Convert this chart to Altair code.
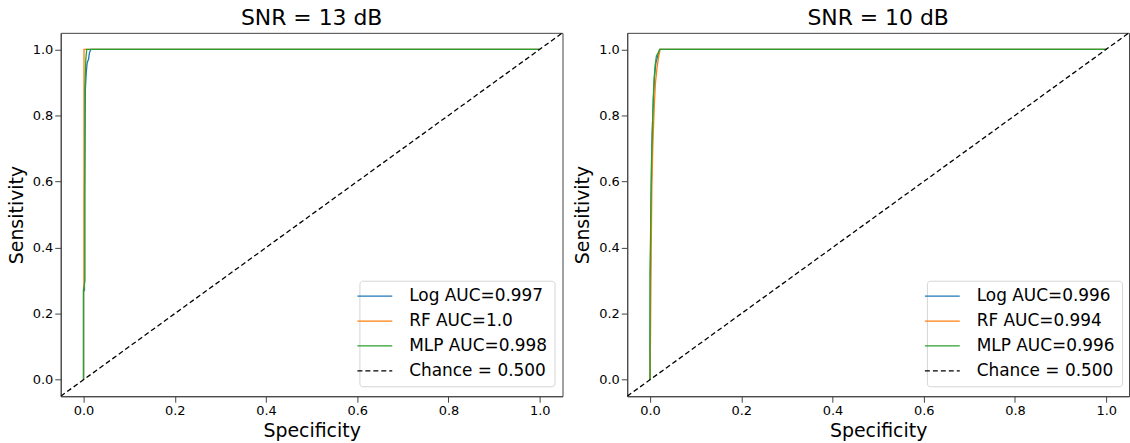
import altair as alt
import pandas as pd

FONT = "DejaVu Sans"

# ---- SNR = 13 dB ----
P1_TITLE = "SNR = 13 dB"
P1_LABELS = ["Log AUC=0.997", "RF AUC=1.0", "MLP AUC=0.998", "Chance = 0.500"]
P1_LOG_X = [0, 0, 0.002, 0.002, 0.003, 0.004, 0.006, 0.008, 0.011, 0.013, 0.016, 1.0]
P1_LOG_Y = [0, 0.27, 0.27, 0.55, 0.70, 0.88, 0.93, 0.96, 0.97, 0.99, 1.0, 1.0]
P1_RF_X = [0, 0, 0.001, 0.001, 1.0]
P1_RF_Y = [0, 0.28, 0.28, 1.0, 1.0]
P1_MLP_X = [0, 0, 0.003, 0.003, 0.005, 0.007, 1.0]
P1_MLP_Y = [0, 0.27, 0.30, 0.88, 0.97, 1.0, 1.0]

# ---- SNR = 10 dB ----
P2_TITLE = "SNR = 10 dB"
P2_LABELS = ["Log AUC=0.996", "RF AUC=0.994", "MLP AUC=0.996", "Chance = 0.500"]
P2_LOG_X = [0, 0, 0.001, 0.002, 0.003, 0.0045, 0.006, 0.008, 0.01, 0.013, 0.017, 0.021, 1.0]
P2_LOG_Y = [0, 0.15, 0.35, 0.5, 0.6, 0.73, 0.8, 0.87, 0.92, 0.96, 0.98, 1.0, 1.0]
P2_RF_X = [0, 0.001, 0.002, 0.003, 0.004, 0.006, 0.008, 0.01, 0.012, 0.015, 0.018, 0.022, 1.0]
P2_RF_Y = [0, 0.12, 0.3, 0.45, 0.58, 0.7, 0.78, 0.85, 0.9, 0.94, 0.97, 1.0, 1.0]
P2_MLP_X = [0, 0, 0.001, 0.002, 0.003, 0.005, 0.007, 0.009, 0.011, 0.014, 0.018, 0.022, 1.0]
P2_MLP_Y = [0, 0.33, 0.42, 0.55, 0.65, 0.75, 0.85, 0.91, 0.95, 0.98, 0.99, 1.0, 1.0]

CHANCE_X = [-0.05, 1.05]
CHANCE_Y = [-0.05, 1.05]

COLORS = ["#1f77b4", "#ff7f0e", "#2ca02c", "#000000"]
DASHES = [[1, 0], [1, 0], [1, 0], [5, 3]]
TICKS = [0.0, 0.2, 0.4, 0.6, 0.8, 1.0]


def make_df(labels, series):
    rows = []
    for lab, (xs, ys) in zip(labels, series):
        for i, (x, y) in enumerate(zip(xs, ys)):
            rows.append({"label": lab, "x": x, "y": y, "idx": i})
    return pd.DataFrame(rows)


def panel(title, labels, series, legend_x):
    df = make_df(labels, series)
    leg = alt.Legend(orient="none", legendX=legend_x, legendY=249)
    return (
        alt.Chart(df)
        .mark_line(strokeWidth=1.3, clip=True)
        .encode(
            x=alt.X("x:Q", title="Specificity",
                    scale=alt.Scale(domain=[-0.05, 1.05], nice=False, zero=False),
                    axis=alt.Axis(values=TICKS, format=".1f", titlePadding=4)),
            y=alt.Y("y:Q", title="Sensitivity",
                    scale=alt.Scale(domain=[-0.05, 1.05], nice=False, zero=False),
                    axis=alt.Axis(values=TICKS, format=".1f")),
            color=alt.Color("label:N", title=None,
                            scale=alt.Scale(domain=labels, range=COLORS),
                            legend=leg),
            strokeDash=alt.StrokeDash("label:N", title=None,
                                      scale=alt.Scale(domain=labels, range=DASHES),
                                      legend=leg),
            order=alt.Order("idx:Q"),
        )
        .properties(title=title, width=504, height=365)
    )


c1 = panel(P1_TITLE, P1_LABELS,
           [(P1_LOG_X, P1_LOG_Y), (P1_RF_X, P1_RF_Y), (P1_MLP_X, P1_MLP_Y), (CHANCE_X, CHANCE_Y)],
           300)
c2 = panel(P2_TITLE, P2_LABELS,
           [(P2_LOG_X, P2_LOG_Y), (P2_RF_X, P2_RF_Y), (P2_MLP_X, P2_MLP_Y), (CHANCE_X, CHANCE_Y)],
           301)

chart = (
    alt.hconcat(c1, c2, spacing=9)
    .resolve_scale(color="independent", strokeDash="independent")
    .resolve_legend(color="independent", strokeDash="independent")
    .properties(padding={"left": 6, "top": 5, "right": 0, "bottom": 0})
    .configure(font=FONT, background="white")
    .configure_view(stroke="#444", strokeWidth=1)
    .configure_axis(
        labelFont=FONT, titleFont=FONT, labelFontSize=13, titleFontSize=19,
        labelColor="black", titleColor="black", titleFontWeight="normal",
        domainColor="#444", tickColor="#444", tickSize=6, labelPadding=2,
        titlePadding=6, grid=False,
    )
    .configure_title(font=FONT, fontSize=22, fontWeight="normal", color="black", offset=3)
    .configure_legend(
        labelFont=FONT, labelFontSize=17, labelColor="black",
        symbolType="M-3.5,0H3.5", symbolSize=100, symbolStrokeWidth=1.3,
        rowPadding=7, labelOffset=26, padding=7,
        strokeColor="#d5d5d5", fillColor="white", cornerRadius=3,
    )
)

chart.save("out.html", embed_options={"renderer": "svg", "actions": False})
